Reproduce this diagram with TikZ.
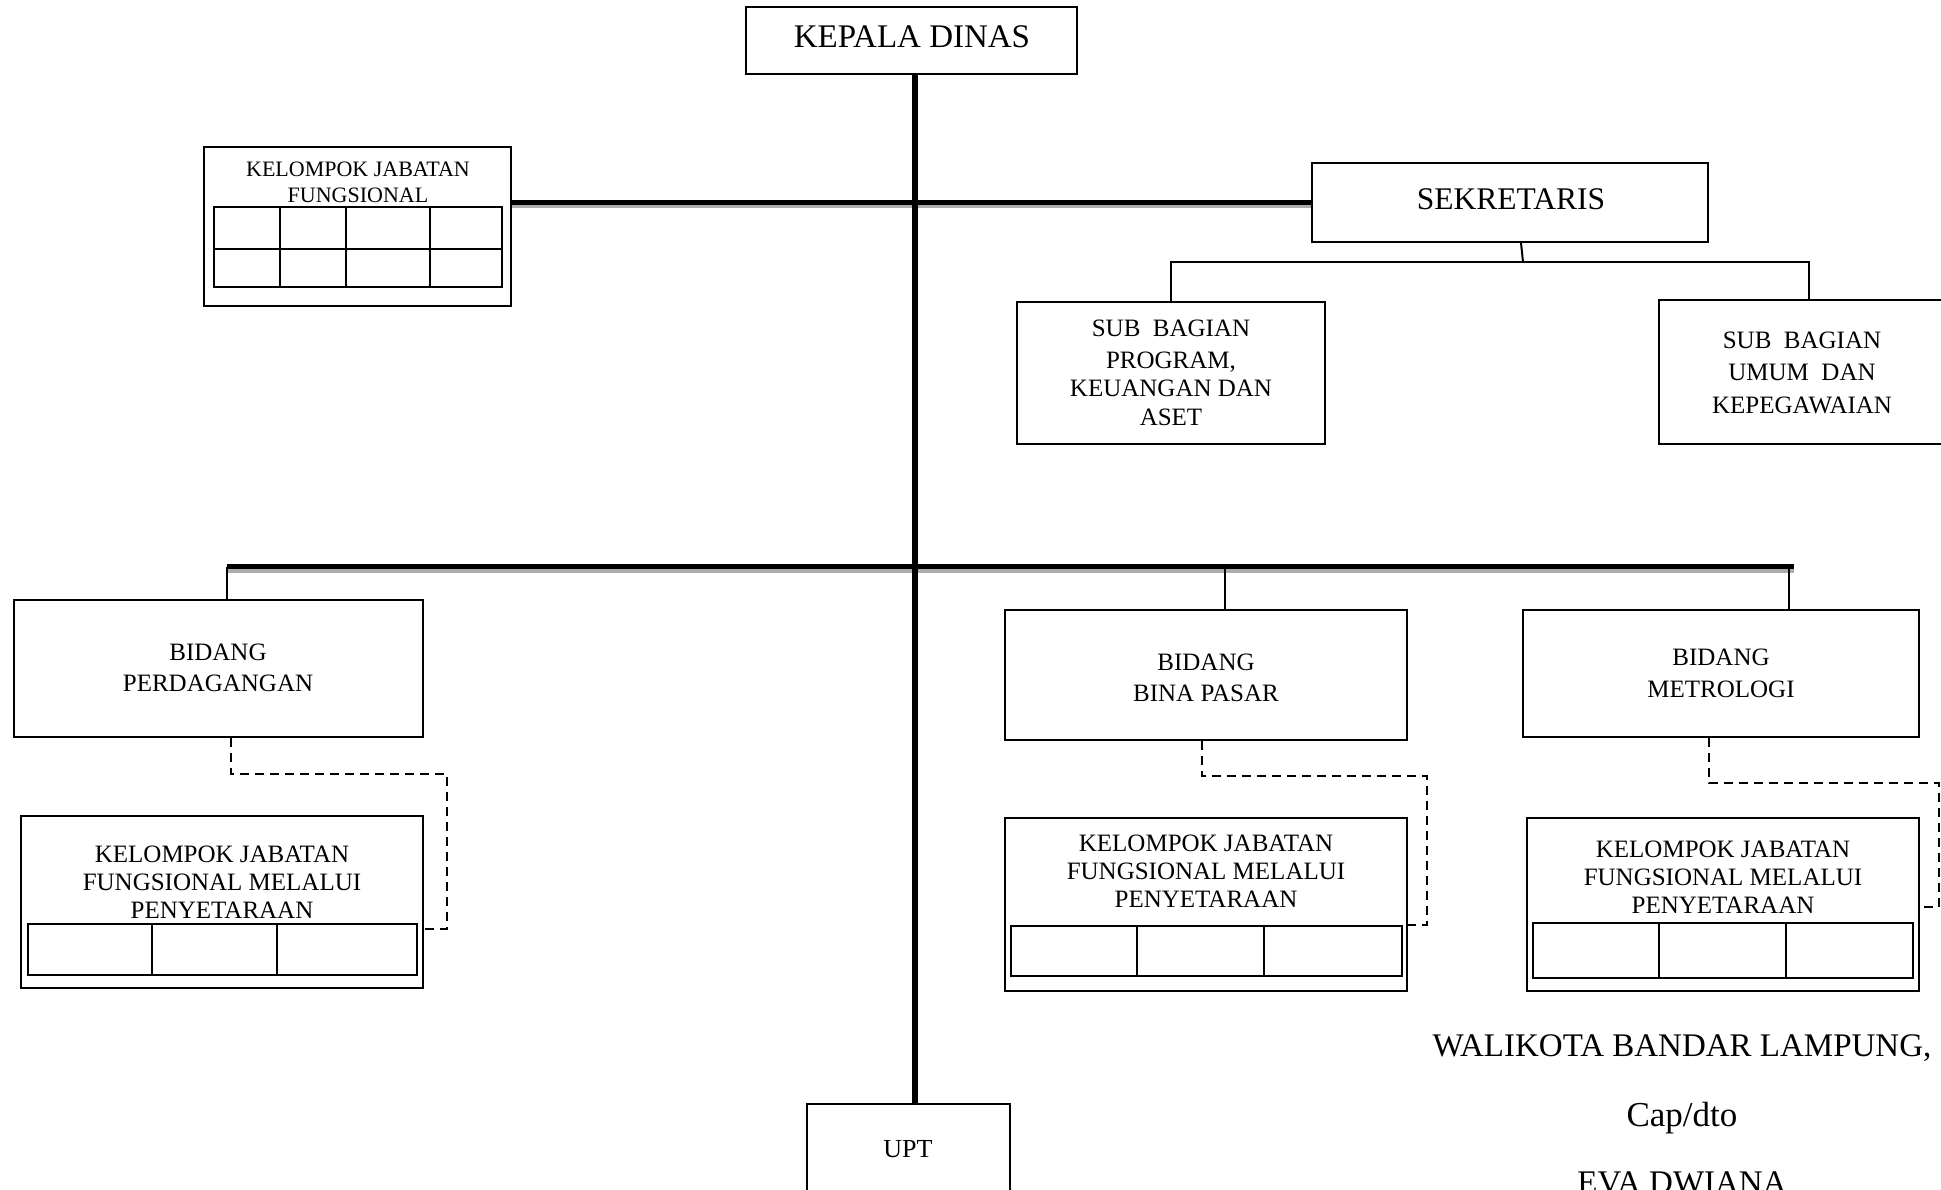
\documentclass[tikz,border=0pt]{standalone}
\usepackage{fontspec}
\setmainfont{Liberation Serif}
\begin{document}
\begin{tikzpicture}[x=1pt,y=-1pt,
  box/.style={draw, line width=1.8pt, inner sep=0pt},
  txt/.style={inner sep=0pt, align=center},
  fbig/.style={font=\fontsize{33}{40}\selectfont},
  fsek/.style={font=\fontsize{31.5}{38}\selectfont},
  fmid/.style={font=\fontsize{25}{31}\selectfont},
  fsmall/.style={font=\fontsize{22}{26}\selectfont},
  fkjf/.style={font=\fontsize{25}{28}\selectfont},
  fum/.style={font=\fontsize{25}{32.5}\selectfont},
  gridline/.style={line width=2.2pt},
  conn/.style={line width=2pt},
  trunk/.style={line width=5.5pt},
  busblack/.style={line width=5pt},
  busgray/.style={line width=3.2pt, gray!65},
  dsh/.style={line width=2pt, dash pattern=on 9pt off 6pt}
]
\useasboundingbox (0,0) rectangle (1941,1189);

% ---- boxes ----
\node[box, minimum width=331pt, minimum height=67pt] (kepala) at (911.5,40.5) {};
\node[box, minimum width=307pt, minimum height=159pt] (kjf) at (357.5,226.5) {};
\node[box, minimum width=396pt, minimum height=79pt] (sek) at (1510,202.5) {};
\node[box, minimum width=308pt, minimum height=142pt] (subprog) at (1171,373) {};
\node[box, minimum width=291pt, minimum height=144pt] (subumum) at (1804.5,372) {};
\node[box, minimum width=409pt, minimum height=137pt] (perd) at (218.5,668.5) {};
\node[box, minimum width=402pt, minimum height=172pt] (kjfA) at (222,902) {};
\node[box, minimum width=402pt, minimum height=130pt] (bina) at (1206,675) {};
\node[box, minimum width=402pt, minimum height=173pt] (kjfB) at (1206,904.5) {};
\node[box, minimum width=396pt, minimum height=127pt] (metro) at (1721,673.5) {};
\node[box, minimum width=392pt, minimum height=173pt] (kjfC) at (1723,904.5) {};
\node[box, minimum width=203pt, minimum height=106pt] (upt) at (908.5,1157) {};

% ---- texts ----
\node[txt, fbig] (kepalaT) at (912,37) {KEPALA DINAS};
\node[txt, fsmall] (kjfT) at (358,182) {KELOMPOK JABATAN\\FUNGSIONAL};
\node[txt, fsek] (sekT) at (1511,199) {SEKRETARIS};
\node[txt, fmid, font=\fontsize{25}{28.5}\selectfont] (subprogT) at (1171,372.5) {SUB\ \ BAGIAN\\[3.5pt]PROGRAM,\\KEUANGAN DAN\\ASET};
\node[txt, fum] (subumumT) at (1802,372.5) {SUB\ \ BAGIAN\\UMUM\ \ DAN\\KEPEGAWAIAN};
\node[txt, fmid] (perdT) at (218,667.5) {BIDANG\\PERDAGANGAN};
\node[txt, fkjf] (kjfAT) at (222,882) {KELOMPOK JABATAN\\FUNGSIONAL MELALUI\\PENYETARAAN};
\node[txt, fmid] (binaT) at (1206,677.5) {BIDANG\\BINA PASAR};
\node[txt, fkjf] (kjfBT) at (1206,871.5) {KELOMPOK JABATAN\\FUNGSIONAL MELALUI\\PENYETARAAN};
\node[txt, fmid, font=\fontsize{25}{32}\selectfont] (metroT) at (1721,673.5) {BIDANG\\METROLOGI};
\node[txt, fkjf] (kjfCT) at (1723,877.5) {KELOMPOK JABATAN\\FUNGSIONAL MELALUI\\PENYETARAAN};
\node[txt, font=\fontsize{26}{30}\selectfont] (uptT) at (908,1149) {UPT};

\node[inner sep=0pt, anchor=base, fbig] (wali) at (1682,1056) {WALIKOTA BANDAR LAMPUNG,};
\node[inner sep=0pt, anchor=base, font=\fontsize{35}{40}\selectfont] (cap) at (1682,1126) {Cap/dto};
\node[inner sep=0pt, anchor=base, fbig] (eva) at (1682,1193) {EVA DWIANA};

% ---- grids ----
\draw[gridline] (214,207) rectangle (502,287);
\draw[gridline] (214,249) -- (502,249);
\foreach \x in {280,346,430} \draw[gridline] (\x,207) -- (\x,287);

\draw[gridline] (28,924) rectangle (417,975);
\foreach \x in {152,277} \draw[gridline] (\x,924) -- (\x,975);

\draw[gridline] (1011,926) rectangle (1402,976);
\foreach \x in {1137,1264} \draw[gridline] (\x,926) -- (\x,976);

\draw[gridline] (1533,923) rectangle (1913,978);
\foreach \x in {1659,1786} \draw[gridline] (\x,923) -- (\x,978);

% ---- upper bus (fungsional -- sekretaris) ----
\coordinate (b1L) at (kjf.east |- sek.west);
\draw[busgray] ([yshift=-4pt]b1L) -- ([yshift=-4pt]sek.west);
\draw[busblack] (b1L) -- (sek.west);

% ---- sekretaris branches ----
\coordinate (s1) at (1523,262);
\coordinate (s2) at (1809,262);
\draw[conn] ([xshift=11pt]sek.south) -- (s1);
\draw[conn] (subprog.north) |- (s2) -- (s2 |- subumum.north);

% ---- middle bus ----
\coordinate (m1) at (227,566.5);
\coordinate (m2) at (1794,566.5);
\coordinate (d2) at (1225,566.5);
\coordinate (d3) at (1789,566.5);
\draw[busgray] ([yshift=-4.5pt]m1) -- ([yshift=-4.5pt]m2);
\draw[busblack] (m1) -- (m2);
\draw[conn] (m1) -- (m1 |- perd.north);
\draw[conn] (d2) -- (d2 |- bina.north);
\draw[conn] (d3) -- (d3 |- metro.north);

% ---- trunk (on top of the buses) ----
\coordinate (tk) at (915,0);
\draw[trunk] (kepala.south -| tk) -- (upt.north -| tk);

% ---- dashed links ----
\coordinate (pa) at (447,774);
\coordinate (pb) at (1427,776);
\coordinate (pc) at (1939,783);
\draw[dsh] ([xshift=12.5pt]perd.south) |- (pa) |- ([yshift=-27pt]kjfA.east);
\draw[dsh] ([xshift=-4pt]bina.south) |- (pb) |- ([yshift=-20.5pt]kjfB.east);
\draw[dsh] ([xshift=-12pt]metro.south) |- (pc) |- ([yshift=-2.5pt]kjfC.east);
\end{tikzpicture}
\end{document}
